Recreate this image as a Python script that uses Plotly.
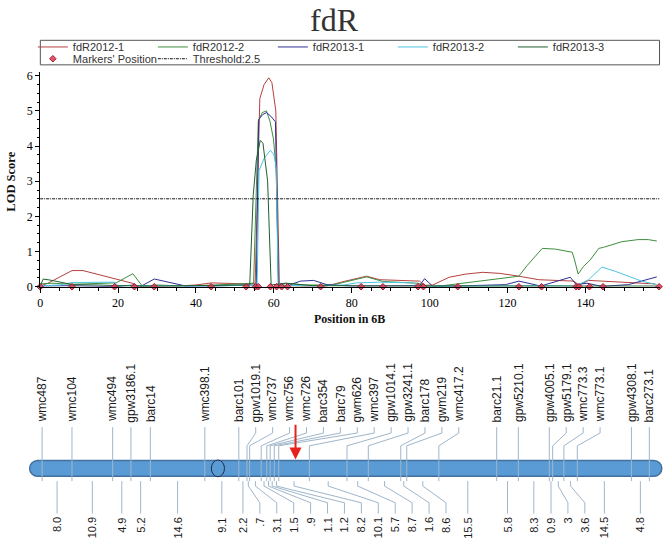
import plotly.graph_objects as go

# ---------------- data ----------------
title_text = "fdR"
series_names = ["fdR2012-1", "fdR2012-2", "fdR2013-1", "fdR2013-2", "fdR2013-3"]
series_colors = ["#B5403F", "#3E8E3E", "#2E3192", "#4BC4E0", "#1F5F2F"]

pos_2012_1 = [0, 2, 8.2, 11, 24, 25, 35, 40, 44, 50, 53, 55.2, 56.4, 57.5, 58.7, 59.5, 60.5, 61.4, 63, 68, 73.6,
              78, 83.8, 87.2, 97.4, 98.7, 100.8, 105, 109.3, 113.6, 118, 122.9, 128, 137, 138.3, 140.8, 144.2, 157.9]
lod_2012_1 = [0.02, 0.1, 0.46, 0.46, 0.09, 0.01, 0.02, 0.05, 0.11, 0.10, 0.08, 0.1, 5.35, 5.75, 5.94, 5.8, 5.0, 0.1, 0.03, 0.02, 0.02,
              0.15, 0.30, 0.20, 0.16, 0.04, 0.05, 0.27, 0.36, 0.41, 0.38, 0.30, 0.20, 0.16, 0.05, 0.18, 0.16, 0.08]

pos_2012_2 = [0, 3, 8.2, 15, 19.5, 23.8, 26.3, 30, 37, 45, 52, 54.8, 56.0, 57.0, 58.1, 59.0, 59.9, 60.6, 61.2, 63, 68, 75,
              83.8, 88, 97, 99, 103.4, 109.3, 122.9, 125, 128.9, 132.3, 136.6, 137.2, 138.1, 139.5, 141.2, 143.4, 144.6,
              149.3, 153.5, 156.1, 158.3]
lod_2012_2 = [0.08, 0.1, 0.07, 0.1, 0.11, 0.37, 0.01, 0.05, 0.02, 0.05, 0.08, 0.1, 4.7, 4.95, 5.0, 4.7, 4.2, 3.3, 0.05, 0.1, 0.05, 0.05,
              0.28, 0.15, 0.1, 0.02, 0.03, 0.11, 0.30, 0.6, 1.09, 1.07, 0.98, 0.76, 0.36, 0.58, 0.76, 1.09, 1.12,
              1.28, 1.34, 1.34, 1.30]

pos_2013_1 = [0, 8, 19.1, 24, 26, 29.3, 37.4, 45, 53, 55.5, 56.1, 57.2, 58.1, 59.2, 60.4, 61.2, 63.3, 66.8, 70.2, 73.6, 80,
              90, 97.4, 98.7, 100.8, 110, 119.5, 122.9, 128.5, 136.1, 137.6, 140.4, 144.2, 151, 158.3]
lod_2013_1 = [0.02, 0.03, 0.0, 0.05, 0.02, 0.22, 0.02, 0.02, 0.05, 0.05, 4.76, 4.9, 4.95, 4.85, 4.69, 0.05, 0.02, 0.16, 0.18, 0.06, 0.02,
              0.03, 0.03, 0.23, 0.01, 0.03, 0.06, 0.16, 0.02, 0.27, 0.06, 0.1, 0.01, 0.06, 0.28]

pos_2013_2 = [0, 5, 8.2, 19, 20, 30, 45, 55.7, 56.2, 57.5, 59.1, 60.0, 60.6, 61.1, 70, 78, 81.2, 87.2, 95.7, 97.4, 110, 130,
              137.4, 140.8, 144.2, 147.6, 154.4, 158.3]
lod_2013_2 = [0.03, 0.05, 0.12, 0.13, 0.03, 0.02, 0.02, 0.05, 3.3, 3.65, 3.88, 3.75, 3.4, 0.05, 0.02, 0.05, 0.11, 0.13, 0.11, 0.01, 0.02, 0.03,
              0.02, 0.2, 0.56, 0.44, 0.16, 0.06]

pos_2013_3 = [0, 0.8, 2.5, 8.4, 15, 20, 30, 50, 53.8, 54.7, 55.5, 56.5, 57.2, 58.4, 59.3, 63, 70, 90, 110, 130, 158.3]
lod_2013_3 = [0.02, 0.22, 0.19, 0.06, 0.05, 0.03, 0.02, 0.03, 0.05, 2.6, 3.6, 4.16, 4.08, 3.0, 0.05, 0.1, 0.03, 0.02, 0.02, 0.02, 0.02]

marker_plot_pos = [0, 8.2, 19.1, 24.2, 29.3, 43.9, 52.9, 55.3, 56.0, 59.1, 60.7, 62.0, 63.5, 72.0, 82.4, 88.0,
                   97.0, 98.4, 107.2, 122.9, 128.7, 137.6, 138.3, 141.0, 144.5, 158.9]
threshold = 2.5
x_max_cm = 159.0

marker_names = ["wmc487", "wmc104", "wmc494", "gpw3186.1", "barc14", "wmc398.1", "barc101", "gpw1019.1",
                "wmc737", "wmc756", "wmc726", "barc354", "barc79", "gwm626", "wmc397", "gpw1014.1",
                "gpw3241.1", "barc178", "gwm219", "wmc417.2", "barc21.1", "gpw5210.1", "gpw4005.1",
                "gpw5179.1", "wmc773.3", "wmc773.1", "gpw4308.1", "barc273.1"]
interval_labels = ["8.0", "10.9", "4.9", "5.2", "14.6", "9.1", "2.2", ".7", "3.1", "1.5", ".9", "1.1", "1.2",
                   "8.2", "10.1", "5.7", "8.7", "1.6", "8.6", "15.5", "5.8", "8.3", "0.9", "3", "3.6", "14.5", "4.8"]
centromere_cm = 47.1
qtl_arrow_cm = 67.9

# ---------------- layout helpers ----------------
W, H = 665, 550
def px(v):  # horizontal pixel -> paper
    return v / W
def py(v):  # vertical pixel (from top) -> paper
    return (H - v) / H

# chromosome map axis: cM units, 3.749 px per cM, first marker at pixel 39.3
K = 3.749
X0PX = 39.3
x2_range = [-X0PX / K, (W - X0PX) / K]

interval_cm = [float(s) for s in interval_labels]
cum = [0.0]
for d in interval_cm:
    cum.append(cum[-1] + d)
mids = [(cum[i] + cum[i + 1]) / 2 for i in range(len(interval_cm))]

def spread(xs, gap):
    out = []
    for x in xs:
        if out and x < out[-1] + gap:
            x = out[-1] + gap
        out.append(x)
    return out

gap_cm = 17.0 / K
top_lab = spread(cum, gap_cm)
bot_lab = spread(mids, gap_cm)

BAR_T, BAR_B = 466, 482

fig = go.Figure()

# LOD curves
all_pos = [pos_2012_1, pos_2012_2, pos_2013_1, pos_2013_2, pos_2013_3]
all_lod = [lod_2012_1, lod_2012_2, lod_2013_1, lod_2013_2, lod_2013_3]
for name, col, xs, ys in zip(series_names, series_colors, all_pos, all_lod):
    fig.add_trace(go.Scatter(x=xs, y=ys, mode="lines", name=name,
                             line=dict(color=col, width=1), legend="legend"))

fig.add_trace(go.Scatter(x=marker_plot_pos, y=[0] * len(marker_plot_pos), mode="markers",
                         name="Markers' Position", cliponaxis=False, legend="legend2",
                         marker=dict(symbol="diamond", size=5, color="rgba(220,60,75,0.85)",
                                     line=dict(color="#9E1B3A", width=1))))
fig.add_trace(go.Scatter(x=[0, x_max_cm], y=[threshold, threshold], mode="lines",
                         name="Threshold:%g" % threshold, legend="legend2",
                         line=dict(color="#111111", width=1, dash="3px,1px,1px,1px")))

# connector lines on chromosome map
lx, ly = [], []
for b, l in zip(cum, top_lab):
    if abs(l - b) < 1e-9:
        lx += [b, b, None]; ly += [432, 487, None]
    else:
        lx += [l, l, b, b, None]; ly += [432, 438, 451, 487, None]
for m, l in zip(mids, bot_lab):
    if abs(l - m) < 1e-9:
        lx += [m, m, None]; ly += [487, 520, None]
    else:
        lx += [m, m, l, l, None]; ly += [487, 492, 509, 520, None]
fig.add_trace(go.Scatter(x=lx, y=ly, xaxis="x2", yaxis="y2", mode="lines", showlegend=False,
                         hoverinfo="skip", line=dict(color="#9FB6CB", width=1)))

# chromosome bar (rounded)
pad = 12.5 / K
xL, xR = cum[0] - pad, cum[-1] + pad
rx = 8.0 / K
ry = 8.0
c = 0.5523
yc = (BAR_T + BAR_B) / 2
path = (f"M{xL+rx},{BAR_T} L{xR-rx},{BAR_T} "
        f"C{xR-rx+c*rx},{BAR_T} {xR},{yc-c*ry} {xR},{yc} "
        f"C{xR},{yc+c*ry} {xR-rx+c*rx},{BAR_B} {xR-rx},{BAR_B} "
        f"L{xL+rx},{BAR_B} "
        f"C{xL+rx-c*rx},{BAR_B} {xL},{yc+c*ry} {xL},{yc} "
        f"C{xL},{yc-c*ry} {xL+rx-c*rx},{BAR_T} {xL+rx},{BAR_T} Z")
shapes = [
    dict(type="path", path=path, xref="x2", yref="y2", layer="below",
         fillcolor="#5B9BD5", line=dict(color="#41719C", width=1.5)),
    dict(type="circle", xref="x2", yref="y2", layer="below",
         x0=centromere_cm - 6.6 / K, x1=centromere_cm + 6.6 / K, y0=BAR_T - 0.5, y1=BAR_B + 0.5,
         fillcolor="#5B9BD5", line=dict(color="#1F2A44", width=1)),
    # legend frame
    dict(type="rect", xref="paper", yref="paper", x0=px(37.5), x1=px(659.5), y0=py(63), y1=py(38),
         line=dict(color="#555555", width=1), fillcolor="rgba(0,0,0,0)"),
]

annotations = []
for name, l in zip(marker_names, top_lab):
    annotations.append(dict(text=name, x=l, y=429, xref="x2", yref="y2", textangle=-90,
                            xanchor="center", yanchor="bottom", showarrow=False,
                            font=dict(family="Liberation Sans, Arial", size=12, color="#1a1a1a")))
for lab, l in zip(interval_labels, bot_lab):
    annotations.append(dict(text=lab, x=l, y=522, xref="x2", yref="y2", textangle=-90,
                            xanchor="center", yanchor="top", showarrow=False,
                            font=dict(family="Liberation Sans, Arial", size=11, color="#1a1a1a")))
annotations.append(dict(text="", x=qtl_arrow_cm, y=465, xref="x2", yref="y2",
                        ax=qtl_arrow_cm, ay=428, axref="x2", ayref="y2", showarrow=True,
                        arrowhead=2, arrowsize=1.2, arrowwidth=2, arrowcolor="#E8201C"))
annotations.append(dict(text="<b>LOD Score</b>", x=px(8), y=py(182), xref="paper", yref="paper",
                        textangle=-90, showarrow=False, xanchor="center", yanchor="middle",
                        font=dict(family="Liberation Serif, Times New Roman", size=12.5, color="#111")))
annotations.append(dict(text="<b>Position in 6B</b>", x=px(348), y=py(322), xref="paper", yref="paper",
                        showarrow=False, xanchor="center", yanchor="middle",
                        font=dict(family="Liberation Serif, Times New Roman", size=12, color="#111")))

y_top_val = (289 - 70) / 35.83

legend_common = dict(orientation="h", x=px(30), xanchor="left", yanchor="top",
                     entrywidth=75, entrywidthmode="pixels", bgcolor="rgba(0,0,0,0)", borderwidth=0,
                     font=dict(family="Liberation Sans, Arial", size=11, color="#333"), itemclick=False)

fig.update_layout(
    width=W, height=H,
    margin=dict(l=0, r=0, t=0, b=0),
    paper_bgcolor="white", plot_bgcolor="rgba(0,0,0,0)",
    title=dict(text=title_text, x=0.5, xanchor="center", xref="paper", y=py(20), yref="container",
               yanchor="middle", pad=dict(t=0, b=0),
               font=dict(family="Liberation Serif, Times New Roman", size=32, color="#333")),
    xaxis=dict(domain=[px(37.3), px(659.5)], range=[0, x_max_cm], anchor="y",
               showline=True, linecolor="black", linewidth=1, showgrid=False, zeroline=False,
               ticks="outside", ticklen=5, tickcolor="black", dtick=20, tick0=0,
               minor=dict(ticks="outside", ticklen=3, dtick=5, tickcolor="black"),
               tickfont=dict(family="Liberation Serif, Times New Roman", size=12, color="black")),
    yaxis=dict(domain=[py(289), py(70)], range=[0, y_top_val], anchor="x",
               showline=True, linecolor="black", linewidth=1, showgrid=False, zeroline=False,
               ticks="outside", ticklen=4, tickcolor="black", dtick=1, tick0=0,
               minor=dict(ticks="outside", ticklen=2, dtick=0.25, tickcolor="black"),
               tickfont=dict(family="Liberation Serif, Times New Roman", size=12, color="black")),
    xaxis2=dict(domain=[0, 1], range=x2_range, anchor="y2", visible=False, fixedrange=True),
    yaxis2=dict(domain=[0, 1], range=[H, 0], anchor="x2", visible=False, fixedrange=True),
    legend=dict(y=py(30), **legend_common),
    legend2=dict(y=py(42), **legend_common),
    shapes=shapes,
    annotations=annotations,
    showlegend=True,
)

fig.write_html("out.html", config={"displayModeBar": False},
               post_script="document.body.style.margin='0px';document.body.style.padding='0px';")
